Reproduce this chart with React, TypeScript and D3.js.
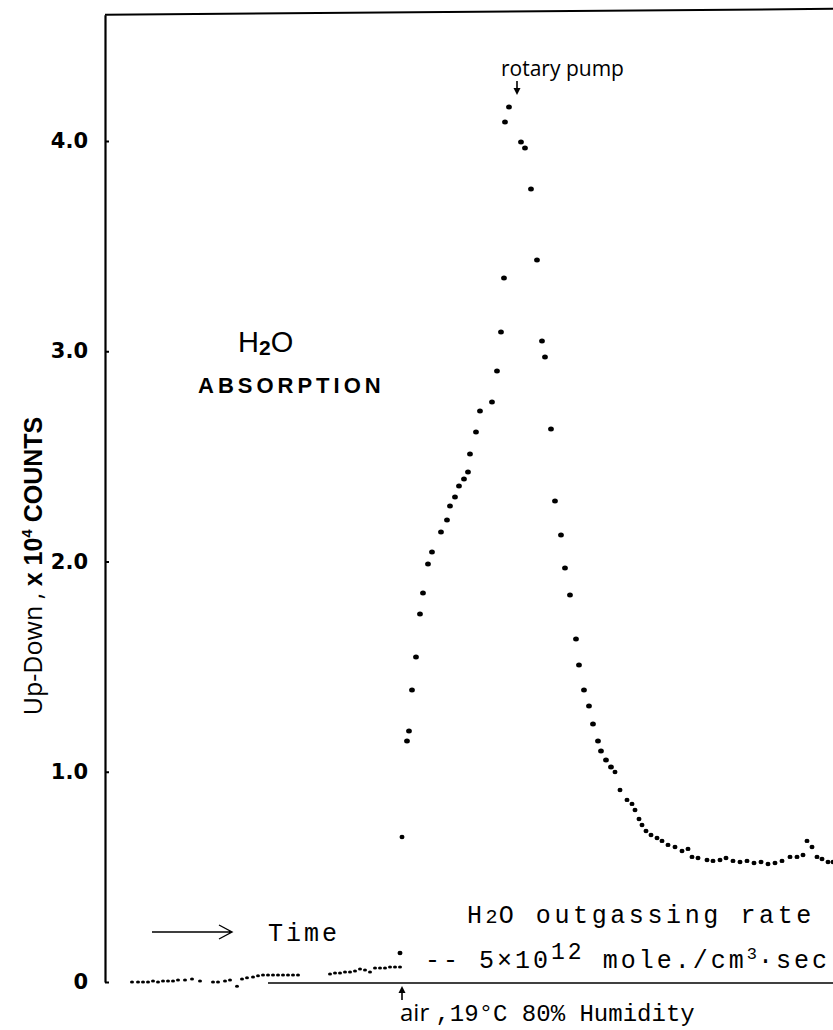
import React, { useEffect, useRef } from "react";
import * as d3 from "d3";

// time has no scale on the original plot, so it is in arbitrary units here
// counts are Up-Down counts in units of 10^4

// before air is let in (small dots along the zero line)
const baseTime = [
  13.5, 16.5, 19, 21.5, 24, 26.5, 29, 31.5, 34, 36.5, 40, 43.5, 47.5, 54, 56.5,
  60, 62.5, 66, 68.5, 71, 74, 76.5, 79, 81.5, 84, 86.5, 89, 91.5, 94, 96.5,
  112.5, 115, 117.5, 120, 122.5, 125, 127.5, 130, 132.5, 135, 137.5, 140, 142.5,
  145, 147.5,
];
const baseCounts = [
  0, 0, 0, 0, 0.005, 0, 0.005, 0.005, 0.005, 0.01, 0.01, 0.014, 0.005, 0, 0,
  0.005, 0.01, -0.02, 0.014, 0.02, 0.024, 0.03, 0.033, 0.033, 0.033, 0.033,
  0.033, 0.033, 0.033, 0.033, 0.038, 0.043, 0.043, 0.048, 0.048, 0.052, 0.062,
  0.057, 0.048, 0.067, 0.067, 0.067, 0.071, 0.071, 0.071,
];

// after air (19°C, 80% humidity) is let in
const airTime = [
  147.5, 148.5, 151, 152, 153.5, 155.5, 157.5, 159, 161.5, 163.5, 168, 171,
  172.5, 175, 177, 179.5, 181.5, 182.5, 185.5, 187.5, 193.5, 196, 198, 199.5,
  200, 202, 208, 210, 213, 216, 218.5, 220, 223, 225, 228, 230, 232.5, 235.5,
  237, 239.5, 242, 244, 246.5, 248, 250.5, 253, 255, 257.5, 261, 263.5, 265,
  267, 268.5, 270.5, 273, 276, 278.5, 281.5, 285, 288.5, 291.5, 293.5, 296.5,
  301, 304, 307.5, 310.5, 314, 317.5, 321, 324.5, 328, 331.5, 335, 338.5, 342.5,
  346, 349, 351, 353.5, 356, 358.5, 361.5, 364,
];
const airCounts = [
  0.138, 0.69, 1.146, 1.194, 1.389, 1.546, 1.75, 1.85, 1.988, 2.045, 2.14,
  2.197, 2.264, 2.307, 2.359, 2.392, 2.426, 2.511, 2.616, 2.716, 2.759, 2.906,
  3.092, 3.348, 4.09, 4.162, 3.995, 3.967, 3.772, 3.434, 3.049, 2.973, 2.63,
  2.288, 2.126, 1.969, 1.841, 1.631, 1.508, 1.389, 1.313, 1.227, 1.146, 1.099,
  1.056, 1.023, 0.999, 0.913, 0.866, 0.847, 0.818, 0.775, 0.747, 0.718, 0.699,
  0.685, 0.671, 0.652, 0.642, 0.623, 0.633, 0.595, 0.59, 0.58, 0.576, 0.58,
  0.59, 0.576, 0.571, 0.576, 0.566, 0.571, 0.561, 0.566, 0.576, 0.595, 0.595,
  0.604, 0.671, 0.642, 0.595, 0.585, 0.571, 0.571,
];

const yTicks = [0, 1, 2, 3, 4];
const yTickLabels = ["0", "1.0", "2.0", "3.0", "4.0"];

const airOnTime = 147.5; // "air" arrow
const pumpTime = 206; // "rotary pump" arrow

function App() {
  const ref = useRef<SVGSVGElement>(null);

  useEffect(() => {
    document.body.style.margin = "0";
    const svg = d3.select(ref.current);
    svg.selectAll("*").remove();

    const x = d3.scaleLinear().domain([0, 364]).range([105, 833]);
    const y = d3.scaleLinear().domain([0, 4.6]).range([982, 14.85]);
    const mono = "'Liberation Mono', 'DejaVu Sans Mono', monospace";
    const sans = "'Open Sans', 'Liberation Sans', sans-serif";

    // frame on top
    svg
      .append("line")
      .attr("x1", x(0))
      .attr("y1", y(4.6))
      .attr("x2", 833)
      .attr("y2", y(4.6) - 6)
      .attr("stroke", "#000")
      .attr("stroke-width", 2);

    const axis = svg
      .append("g")
      .attr("transform", `translate(${x(0)},0)`)
      .call(
        d3
          .axisLeft(y)
          .tickValues(yTicks)
          .tickFormat((d, i) => yTickLabels[i])
          .tickSizeInner(-4)
          .tickSizeOuter(0)
          .tickPadding(17)
      );
    axis.select(".domain").attr("stroke-width", 2.2);
    axis.selectAll("line").attr("stroke-width", 2);
    axis
      .selectAll("text")
      .attr("font-family", "'DejaVu Sans', sans-serif")
      .attr("font-weight", "bold")
      .attr("font-size", 21)
      .attr("fill", "#000");

    // y title
    const title = svg
      .append("text")
      .attr("transform", `translate(42,566) rotate(-90)`)
      .attr("text-anchor", "middle")
      .attr("font-family", "'Liberation Sans', sans-serif")
      .attr("font-size", 25)
      .attr("fill", "#000");
    title.append("tspan").attr("font-family", sans).text("Up-Down , ");
    title.append("tspan").attr("font-weight", "bold").text("x 10");
    title
      .append("tspan")
      .attr("font-weight", "bold")
      .attr("font-size", 15)
      .attr("dy", -10)
      .text("4");
    title
      .append("tspan")
      .attr("font-weight", "bold")
      .attr("dy", 10)
      .text(" COUNTS");

    // data
    svg
      .append("g")
      .selectAll("ellipse")
      .data(baseTime)
      .enter()
      .append("ellipse")
      .attr("cx", (d) => x(d))
      .attr("cy", (d, i) => y(baseCounts[i]))
      .attr("rx", 2)
      .attr("ry", 1.5)
      .attr("fill", "#000");

    svg
      .append("g")
      .selectAll("ellipse")
      .data(airTime)
      .enter()
      .append("ellipse")
      .attr("cx", (d) => x(d))
      .attr("cy", (d, i) => y(airCounts[i]))
      .attr("rx", (d, i) => (airCounts[i] < 1 ? 2.5 : 2.9))
      .attr("ry", (d, i) => (airCounts[i] < 1 ? 2.2 : 2.5))
      .attr("fill", "#000");

    // rotary pump label + arrow
    svg
      .append("text")
      .attr("x", x(pumpTime) - 16)
      .attr("y", 76)
      .attr("font-family", sans)
      .attr("font-size", 21)
      .attr("fill", "#000")
      .text("rotary pump");
    svg
      .append("line")
      .attr("x1", x(pumpTime))
      .attr("x2", x(pumpTime))
      .attr("y1", 81)
      .attr("y2", 90)
      .attr("stroke", "#000")
      .attr("stroke-width", 1.6);
    svg
      .append("path")
      .attr(
        "d",
        `M${x(pumpTime) - 3.5},88 L${x(pumpTime) + 3.5},88 L${x(pumpTime)},95 Z`
      )
      .attr("fill", "#000");

    // H2O ABSORPTION
    const h2o = svg
      .append("text")
      .attr("x", 238)
      .attr("y", 352)
      .attr("font-family", "'Liberation Sans', sans-serif")
      .attr("font-size", 29)
      .attr("fill", "#000");
    h2o.append("tspan").text("H");
    h2o
      .append("tspan")
      .attr("font-size", 21)
      .attr("font-weight", "bold")
      .attr("dy", 3)
      .text("2");
    h2o.append("tspan").attr("dy", -3).text("O");
    svg
      .append("text")
      .attr("x", 198)
      .attr("y", 393)
      .attr("font-family", "'Liberation Sans', sans-serif")
      .attr("font-weight", "bold")
      .attr("font-size", 22)
      .attr("letter-spacing", 4)
      .attr("fill", "#000")
      .text("ABSORPTION");

    // time arrow
    svg
      .append("path")
      .attr("d", "M152,932 H232 M219,925 L232,932 L219,939")
      .attr("fill", "none")
      .attr("stroke", "#000")
      .attr("stroke-width", 1.4);
    svg
      .append("text")
      .attr("x", 268)
      .attr("y", 941)
      .attr("font-family", mono)
      .attr("font-size", 25)
      .attr("letter-spacing", 3)
      .attr("fill", "#000")
      .text("Time");

    // outgassing rate note
    const og = svg
      .append("text")
      .attr("x", 467)
      .attr("y", 923)
      .attr("font-family", mono)
      .attr("font-size", 25)
      .attr("letter-spacing", 3.6)
      .attr("fill", "#000");
    og.append("tspan").text("H");
    og.append("tspan").attr("font-size", 20).attr("letter-spacing", 1).text("2");
    og.append("tspan").text("O outgassing rate");

    const rate = svg
      .append("text")
      .attr("x", 425)
      .attr("y", 968)
      .attr("font-family", mono)
      .attr("font-size", 25)
      .attr("letter-spacing", 3)
      .attr("fill", "#000");
    rate.append("tspan").text("-- 5×10");
    rate.append("tspan").attr("dy", -9).attr("font-size", 23).text("12");
    rate.append("tspan").attr("dy", 9).text(" mole./cm");
    rate
      .append("tspan")
      .attr("dy", -9)
      .attr("font-size", 17)
      .attr("letter-spacing", 1)
      .text("3");
    rate.append("tspan").attr("dy", 9).text("·sec");

    // zero reference line
    svg
      .append("line")
      .attr("x1", 268)
      .attr("x2", 833)
      .attr("y1", y(0) + 1)
      .attr("y2", y(0) + 1)
      .attr("stroke", "#000")
      .attr("stroke-width", 1.6);

    // air arrow
    svg
      .append("line")
      .attr("x1", x(airOnTime) + 2)
      .attr("x2", x(airOnTime) + 2)
      .attr("y1", 1000)
      .attr("y2", 990)
      .attr("stroke", "#000")
      .attr("stroke-width", 1.6);
    svg
      .append("path")
      .attr(
        "d",
        `M${x(airOnTime) - 1.5},993 L${x(airOnTime) + 5.5},993 L${x(airOnTime) + 2},986 Z`
      )
      .attr("fill", "#000");

    const air = svg
      .append("text")
      .attr("x", 400)
      .attr("y", 1021)
      .attr("font-size", 24)
      .attr("fill", "#000");
    air.append("tspan").attr("font-family", sans).attr("font-size", 24).text("air ");
    air.append("tspan").attr("font-family", mono).text(",19°C 80% Humidity");
  }, []);

  return (
    <svg
      ref={ref}
      width={833}
      height={1030}
      style={{ display: "block", background: "#fff" }}
    ></svg>
  );
}

export default App;
